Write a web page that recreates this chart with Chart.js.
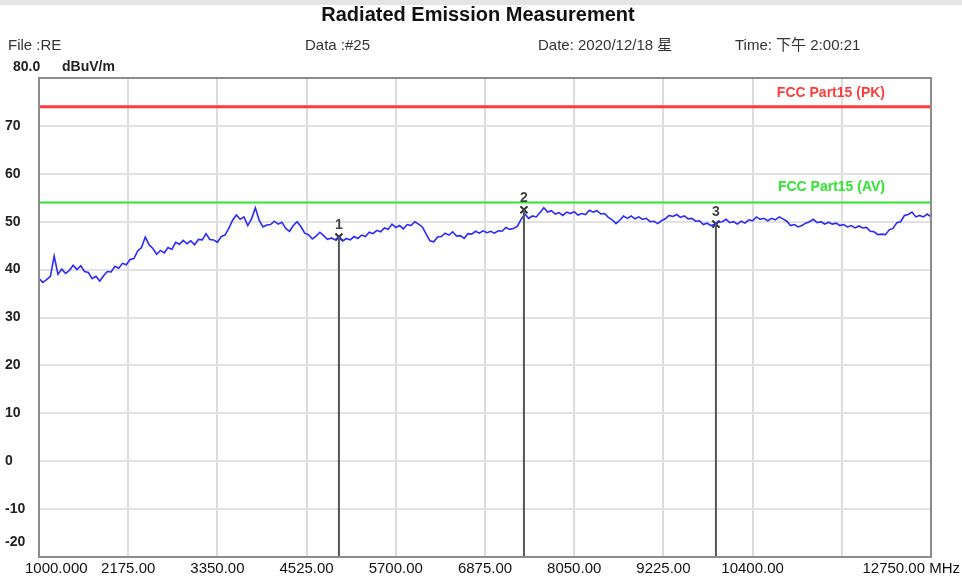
<!DOCTYPE html>
<html>
<head>
<meta charset="utf-8">
<script src="https://cdn.jsdelivr.net/npm/chart.js@4.4.1/dist/chart.umd.min.js"></script>
<style>
  body { margin: 0; background: #fff; }
  canvas { display: block; }
</style>
</head>
<body>
<canvas id="chart" width="962" height="579"></canvas>
<script>
const FONT = "'Liberation Sans', Arial, 'Noto Sans CJK SC', sans-serif";

// header texts
const chartTitle = 'Radiated Emission Measurement';
const headerItems = ['File :RE', 'Data :#25', 'Date: 2020/12/18 星', 'Time: 下午 2:00:21'];
const unitLabel = 'dBuV/m';
const topLabel = '80.0';

// axes
const xTicks = [1000, 2175, 3350, 4525, 5700, 6875, 8050, 9225, 10400, 11575, 12750];
const xTickLabels = ['1000.000', '2175.00', '3350.00', '4525.00', '5700.00', '6875.00', '8050.00', '9225.00', '10400.00', '', '12750.00 MHz'];
const yMin = -20, yMax = 80, yStep = 10;

// limit lines
const limitNames = ['FCC Part15 (PK)', 'FCC Part15 (AV)'];
const limitLevels = [74, 54];

// markers
const markerNames = ['1', '2', '3'];
const markerFreqs = [4951, 7388, 9917];
const markerLevels = [46.8, 52.5, 49.5];

// measured trace, 1000 MHz .. 12750 MHz every 50 MHz (dBuV/m)
const traceStart = 1000, traceStep = 50;
const traceLevel = [
  38.2, 37.3, 37.9, 38.6, 42.8, 39.0, 40.1, 39.2, 39.8, 40.9,
  40.0, 40.8, 39.6, 39.4, 38.1, 38.6, 37.6, 38.7, 39.6, 39.5,
  40.7, 40.3, 41.3, 41.0, 42.1, 42.3, 43.9, 44.6, 46.8, 45.2,
  44.4, 43.2, 44.0, 43.5, 44.6, 44.2, 45.7, 45.3, 46.1, 45.4,
  46.0, 45.2, 46.3, 46.2, 47.5, 46.3, 46.2, 45.7, 46.9, 47.2,
  48.6, 50.3, 51.4, 50.5, 51.0, 49.2, 50.6, 52.9, 50.3, 48.9,
  49.3, 49.4, 50.1, 49.5, 49.9, 48.6, 48.0, 49.2, 50.0, 49.0,
  47.6, 47.3, 46.4, 47.0, 47.8, 47.1, 46.3, 46.6, 46.2, 46.8,
  46.0, 46.5, 46.2, 46.9, 46.5, 47.2, 46.9, 47.8, 47.5, 48.2,
  47.9, 48.7, 48.4, 49.5, 48.8, 49.2, 48.5, 49.4, 49.2, 50.0,
  49.5, 48.9, 47.4, 46.0, 45.8, 46.8, 46.9, 47.6, 47.2, 47.9,
  47.0, 47.1, 46.5, 47.5, 47.4, 48.0, 47.6, 48.1, 47.7, 48.0,
  47.6, 48.1, 48.0, 48.8, 48.4, 48.6, 49.0, 50.5, 51.6, 50.7,
  51.2, 51.0, 51.9, 52.9, 52.0, 52.3, 51.6, 51.9, 51.3, 52.0,
  51.7, 52.1, 51.4, 51.7, 51.5, 52.4, 52.0, 52.3, 51.6, 51.7,
  50.9, 50.4, 49.6, 50.3, 51.2, 50.7, 51.2, 50.6, 51.0, 50.5,
  50.7, 50.0, 50.1, 49.6, 50.2, 50.6, 51.3, 51.1, 51.5, 50.9,
  51.2, 50.6, 50.7, 50.1, 50.2, 49.4, 49.7, 49.2, 49.4, 49.9,
  50.0, 50.5, 49.8, 50.0, 49.5, 50.1, 49.7, 50.4, 50.2, 51.0,
  50.5, 50.7, 50.2, 50.7, 50.4, 51.0, 50.6, 50.1, 49.2, 49.4,
  48.9, 49.2, 49.7, 50.0, 50.5, 49.8, 50.0, 49.5, 49.9, 49.5,
  49.7, 49.2, 49.4, 48.9, 49.2, 48.7, 49.1, 48.7, 48.8, 48.0,
  47.9, 47.3, 47.4, 47.3, 48.3, 48.6, 49.8, 50.0, 51.3, 51.5,
  52.0, 51.0, 51.3, 51.0, 51.6, 51.0
];

const tracePoints = traceLevel.map((v, i) => ({ x: traceStart + i * traceStep, y: v }));

// vertical stems from each marker down to the bottom of the plot
const stemSets = markerFreqs.map((f, i) => ({
  data: [{ x: f, y: yMin }, { x: f, y: markerLevels[i] }],
  borderColor: '#555',
  borderWidth: 2,
  pointRadius: 0
}));

const limitColors = ['#ff3c3c', '#2ee62e'];
const limitSets = limitLevels.map((lv, i) => ({
  data: [{ x: xTicks[0], y: lv }, { x: xTicks[xTicks.length - 1], y: lv }],
  borderColor: limitColors[i],
  borderWidth: i === 0 ? 3 : 2,
  pointRadius: 0
}));

const decor = {
  id: 'decor',
  beforeDraw(chart) {
    const ctx = chart.ctx;
    ctx.save();
    ctx.fillStyle = '#ffffff';
    ctx.fillRect(0, 0, chart.width, chart.height);
    ctx.fillStyle = '#e4e4e4';
    ctx.fillRect(0, 0, chart.width, 5);
    ctx.restore();
  },
  afterDraw(chart) {
    const ctx = chart.ctx;
    const area = chart.chartArea;
    const xs = chart.scales.x, ys = chart.scales.y;
    ctx.save();

    // frame
    ctx.strokeStyle = '#8c8c8c';
    ctx.lineWidth = 2;
    ctx.strokeRect(area.left, area.top, area.right - area.left, area.bottom - area.top);

    // title + header line
    ctx.fillStyle = '#111';
    ctx.textBaseline = 'middle';
    ctx.textAlign = 'center';
    ctx.font = 'bold 20px ' + FONT;
    ctx.fillText(chartTitle, 478, 15);
    ctx.textAlign = 'left';
    ctx.font = '15px ' + FONT;
    ctx.fillStyle = '#333';
    const hx = [8, 305, 538, 735];
    headerItems.forEach((t, i) => ctx.fillText(t, hx[i], 46));

    // top of y axis and unit
    ctx.fillStyle = '#222';
    ctx.font = 'bold 14px ' + FONT;
    ctx.fillText(topLabel, 13, ys.getPixelForValue(yMax) - 11);
    ctx.fillText(unitLabel, 62, ys.getPixelForValue(yMax) - 11);
    ctx.fillText(String(yMin), 5, ys.getPixelForValue(yMin) - 15);

    // x tick labels
    ctx.font = '15px ' + FONT;
    ctx.fillStyle = '#111';
    xTicks.forEach((v, i) => {
      const t = xTickLabels[i];
      if (!t) return;
      let px = xs.getPixelForValue(v);
      if (i === 0) { ctx.textAlign = 'left'; px -= 14; }
      else if (i === xTicks.length - 1) { ctx.textAlign = 'right'; px += 29; }
      else ctx.textAlign = 'center';
      ctx.fillText(t, px, area.bottom + 12);
    });

    // limit names
    ctx.font = 'bold 14px ' + FONT;
    ctx.textAlign = 'right';
    limitNames.forEach((n, i) => {
      ctx.fillStyle = limitColors[i];
      ctx.fillText(n, area.right - 46, ys.getPixelForValue(limitLevels[i]) - (i === 0 ? 14 : 15));
    });

    // marker numbers
    ctx.font = 'bold 14px ' + FONT;
    ctx.textAlign = 'center';
    ctx.fillStyle = '#444';
    markerNames.forEach((n, i) => {
      ctx.fillText(n, xs.getPixelForValue(markerFreqs[i]), ys.getPixelForValue(markerLevels[i]) - 12);
    });
    ctx.restore();
  }
};

new Chart(document.getElementById('chart'), {
  type: 'line',
  data: {
    datasets: [
      ...stemSets,
      ...limitSets,
      {
        data: tracePoints,
        borderColor: '#2a2aff',
        borderWidth: 1.6,
        pointRadius: 0
      },
      {
        data: markerFreqs.map((f, i) => ({ x: f, y: markerLevels[i] })),
        showLine: false,
        pointStyle: 'crossRot',
        pointRadius: 5,
        borderColor: '#333',
        borderWidth: 2
      }
    ]
  },
  options: {
    responsive: false,
    animation: false,
    layout: { padding: { left: 5, top: 78, right: 31, bottom: 22 } },
    plugins: { legend: { display: false }, tooltip: { enabled: false }, title: { display: false } },
    scales: {
      x: {
        type: 'linear',
        min: xTicks[0],
        max: xTicks[xTicks.length - 1],
        afterBuildTicks: s => { s.ticks = xTicks.map(v => ({ value: v })); },
        afterFit: s => { s.height = 0; },
        ticks: { display: false },
        grid: { color: '#dcdcdc', lineWidth: 2, drawTicks: false },
        border: { display: false }
      },
      y: {
        min: yMin,
        max: yMax,
        afterFit: s => { s.width = 34; },
        ticks: {
          stepSize: yStep,
          crossAlign: 'far',
          color: '#222',
          font: { family: FONT, size: 14, weight: 'bold' },
          callback: v => (v === yMax || v === yMin) ? '' : v
        },
        grid: { color: '#e2e2e2', lineWidth: 2, drawTicks: false },
        border: { display: false }
      }
    }
  },
  plugins: [decor]
});
</script>
</body>
</html>
